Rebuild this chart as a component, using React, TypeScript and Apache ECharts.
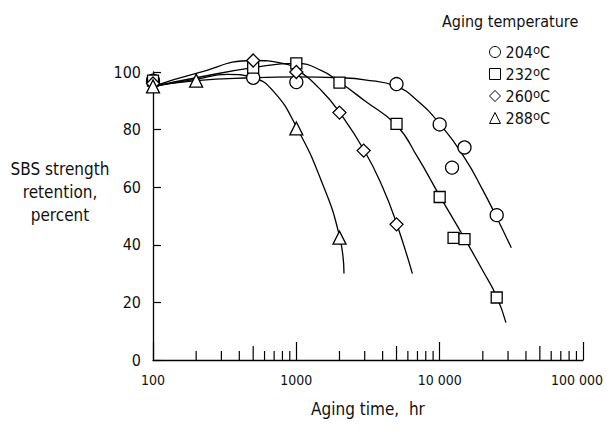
import React, { useEffect, useRef } from "react";
import * as echarts from "echarts";

const FONT = "'Liberation Sans Narrow', 'DejaVu Sans Condensed', 'Noto Sans', sans-serif";

const seriesNames = ["204°C", "232°C", "260°C", "288°C"];
const symbols = ["circle", "rect", "diamond", "triangle"];
const symbolSizes = [13, 11, 13, 13];

// measured points [hours, percent]
const pts204 = [[100, 97], [500, 98], [1000, 96.5], [5000, 95.8], [10000, 81.8], [12200, 66.8], [14900, 73.8], [25000, 50.3]];
const pts232 = [[100, 97], [500, 101.5], [1000, 103], [2000, 96.3], [5000, 82], [10000, 56.6], [12500, 42.4], [14900, 42], [25000, 21.7]];
const pts260 = [[100, 96], [500, 104], [1000, 100], [2000, 85.9], [2950, 72.7], [5000, 47.1]];
const pts288 = [[100, 95], [200, 97], [1000, 80.4], [2000, 42.5]];

// fitted curves
const fit204 = [[100, 95], [200, 97], [500, 98], [1000, 98.3], [2000, 98], [3000, 97.3], [5000, 95], [7000, 90], [10000, 82], [15000, 70], [20000, 59], [25000, 49.5], [31600, 39]];
const fit232 = [[100, 95], [200, 98], [500, 101.5], [1000, 103], [1500, 100.5], [2000, 96.5], [3000, 90], [5000, 81.5], [7000, 70.5], [10000, 57], [15000, 42], [20000, 31], [25000, 22], [29000, 13]];
const fit260 = [[100, 95], [200, 99.5], [500, 104], [800, 103], [1000, 101], [1500, 93.5], [2000, 86], [3000, 72.5], [4000, 60], [5000, 47.5], [6450, 30]];
const fit288 = [[100, 95], [200, 97.5], [330, 99.2], [500, 98], [700, 93], [1000, 81], [1500, 62], [2000, 43], [2150, 30]];

const points = [pts204, pts232, pts260, pts288];
const fits = [fit204, fit232, fit260, fit288];

const minorTicks = [200, 300, 400, 500, 600, 700, 800, 900, 2000, 3000, 4000, 5000, 6000, 7000, 8000, 9000, 20000, 30000, 40000, 50000, 60000, 70000, 80000, 90000];
const xTickLabels: Record<number, string> = { 100: "100", 1000: "1000", 10000: "10 000", 100000: "{r|100 000}" };

export default function App() {
  const ref = useRef<HTMLDivElement>(null);
  useEffect(() => {
    if (!ref.current) return;
    const chart = echarts.init(ref.current, undefined, { renderer: "svg" });
    const series: any[] = [];
    fits.forEach((f, i) => {
      series.push({
        name: seriesNames[i] + " fit",
        type: "line",
        data: f,
        smooth: true,
        showSymbol: false,
        clip: false,
        silent: true,
        lineStyle: { color: "#000", width: 1.3 },
        z: 2,
      });
    });
    points.forEach((p, i) => {
      series.push({
        name: seriesNames[i],
        type: "scatter",
        data: p,
        symbol: symbols[i],
        symbolSize: symbolSizes[i],
        clip: false,
        itemStyle: { color: "#fff", borderColor: "#000", borderWidth: 1.3, opacity: 1 },
        z: 3,
      });
    });
    series.push({
      type: "custom",
      name: "minor",
      silent: true,
      clip: false,
      data: minorTicks.map((v) => [v, 0]),
      encode: { x: 0, y: 1 },
      renderItem: (params: any, api: any) => {
        const v = api.value(0);
        const p = api.coord([v, 0]);
        const mant = Math.round(v / Math.pow(10, Math.floor(Math.log10(v) + 1e-9)));
        const len = mant === 5 ? 14 : 9;
        return {
          type: "line",
          shape: { x1: p[0], y1: p[1], x2: p[0], y2: p[1] - len },
          style: { stroke: "#000", lineWidth: 1.2 },
        };
      },
      z: 4,
    });

    chart.setOption({
      animation: false,
      textStyle: { fontFamily: FONT, color: "#111" },
      title: {
        text: "Aging temperature",
        left: 437,
        top: 8,
        textStyle: { fontFamily: FONT, fontSize: 16, fontWeight: "normal", color: "#111" },
      },
      legend: {
        data: seriesNames,
        orient: "vertical",
        left: 484,
        top: 38,
        itemWidth: 11,
        itemHeight: 11,
        itemGap: -17,
        itemStyle: { color: "#fff", borderColor: "#000", borderWidth: 1 },
        formatter: (name: string) => {
          const parts = name.split("°");
          return `{a|${parts[0]}}{sup|o}{a|${parts[1]}}`;
        },
        textStyle: {
          fontFamily: FONT,
          color: "#111",
          rich: {
            a: { fontSize: 16, lineHeight: 18, verticalAlign: "middle", fontFamily: FONT, color: "#111" },
            sup: { fontSize: 13, lineHeight: 13, padding: [0, 0, 26, 0], verticalAlign: "top", fontFamily: FONT, color: "#111" },
          },
        },
      },
      grid: { left: 153, right: 24, top: 72, bottom: 81, outerBoundsMode: "none", containLabel: false },
      xAxis: {
        type: "log",
        logBase: 10,
        min: 100,
        max: 100000,
        name: "Aging time,  hr",
        nameLocation: "middle",
        nameGap: 40,
        nameTextStyle: { fontFamily: FONT, fontSize: 17, color: "#111" },
        axisLine: { lineStyle: { color: "#000", width: 1.3 } },
        axisTick: { inside: true, length: 18, lineStyle: { color: "#000", width: 1.2 } },
        axisLabel: {
          margin: 13,
          fontSize: 14,
          fontFamily: FONT,
          color: "#111",
          formatter: (v: number) => xTickLabels[Math.round(v)] ?? "",
          rich: {
            r: { fontSize: 14, fontFamily: FONT, color: "#111", padding: [0, 12, 0, 0] },
          },
        },
        splitLine: { show: false },
        minorTick: { show: false },
      },
      yAxis: {
        type: "value",
        min: 0,
        max: 100,
        interval: 20,
        axisLine: { show: true, lineStyle: { color: "#000", width: 1.3 } },
        axisTick: { show: true, inside: true, length: 8, lineStyle: { color: "#000", width: 1.2 } },
        axisLabel: { margin: 12, fontSize: 16, fontFamily: FONT, color: "#111" },
        splitLine: { show: false },
      },
      graphic: [
        {
          type: "text",
          x: 60,
          y: 192,
          style: {
            text: "SBS strength\nretention,\npercent",
            textAlign: "center",
            textVerticalAlign: "middle",
            fontSize: 17,
            lineHeight: 23,
            fontFamily: FONT,
            fill: "#111",
          },
        },
      ],
      series,
    });
    return () => chart.dispose();
  }, []);
  return <div ref={ref} style={{ width: 607, height: 441, position: "absolute", left: 0, top: 0 }} />;
}
